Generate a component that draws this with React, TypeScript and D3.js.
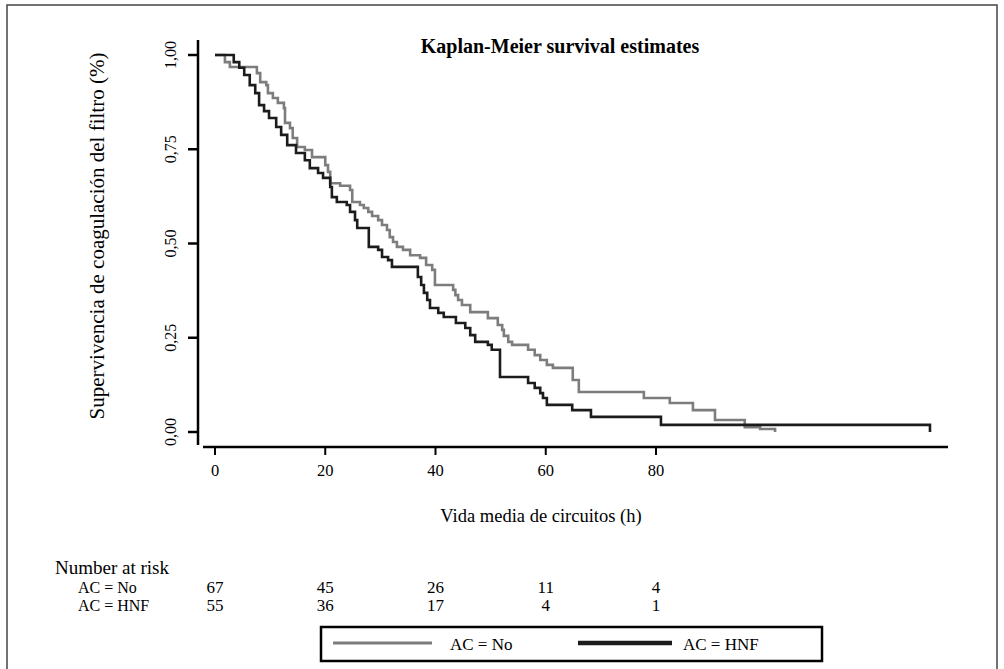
import React from 'react';
import * as d3 from 'd3';

// Kaplan-Meier steps: time (h) where the curve drops, and survival after the drop
const noTimes = [0, 1.8, 2.7, 7.6, 8.2, 9.3, 9.6, 10.5, 11.4, 12.5, 12.7, 13.6, 14.1, 14.9, 16.3, 17.6, 20.0, 20.5, 20.9, 22.7, 24.5, 24.9, 26.3, 27.0, 27.8, 28.5, 29.6, 30.3, 31.2, 31.7, 32.3, 33.0, 34.1, 35.4, 37.2, 38.3, 39.4, 39.9, 43.2, 43.6, 44.1, 44.8, 46.3, 49.5, 51.3, 52.1, 52.4, 53.2, 53.9, 56.8, 58.0, 59.0, 60.2, 61.3, 64.9, 66.0, 77.8, 82.5, 86.7, 90.7, 96.1, 98.9, 101.6];
const noSurv = [1, 0.981, 0.968, 0.952, 0.928, 0.92, 0.899, 0.886, 0.873, 0.859, 0.82, 0.806, 0.78, 0.756, 0.748, 0.729, 0.708, 0.69, 0.66, 0.653, 0.642, 0.61, 0.602, 0.594, 0.584, 0.573, 0.562, 0.549, 0.536, 0.517, 0.504, 0.491, 0.483, 0.469, 0.462, 0.443, 0.43, 0.39, 0.377, 0.363, 0.35, 0.337, 0.318, 0.302, 0.284, 0.271, 0.255, 0.239, 0.231, 0.218, 0.204, 0.191, 0.178, 0.17, 0.138, 0.106, 0.09, 0.077, 0.058, 0.032, 0.013, 0.008, 0];

const hnfTimes = [0, 3.4, 4.4, 5.3, 6.3, 7.3, 8.0, 8.9, 9.8, 11.1, 12.0, 13.1, 14.7, 16.3, 17.2, 18.7, 19.6, 20.9, 21.2, 22.1, 23.9, 24.5, 25.4, 25.8, 27.9, 29.6, 30.3, 31.4, 32.1, 36.8, 37.4, 37.9, 38.5, 39.0, 40.5, 41.5, 43.7, 45.4, 46.3, 47.2, 49.5, 50.2, 51.7, 56.8, 58.0, 59.0, 59.5, 60.2, 64.8, 68.2, 80.9, 129.7];
const hnfSurv = [1, 0.981, 0.966, 0.947, 0.92, 0.899, 0.867, 0.851, 0.833, 0.809, 0.788, 0.761, 0.74, 0.721, 0.7, 0.687, 0.674, 0.65, 0.623, 0.61, 0.602, 0.584, 0.562, 0.541, 0.491, 0.483, 0.464, 0.456, 0.438, 0.411, 0.39, 0.369, 0.35, 0.329, 0.316, 0.305, 0.289, 0.276, 0.257, 0.239, 0.231, 0.218, 0.146, 0.13, 0.117, 0.103, 0.09, 0.072, 0.058, 0.04, 0.019, 0];

const xTicks = [0, 20, 40, 60, 80];
const yTicks = [0, 0.25, 0.5, 0.75, 1];
const yTickLabels = ['0,00', '0,25', '0,50', '0,75', '1,00'];

const riskGroups = ['AC = No', 'AC = HNF'];
const riskNo = [67, 45, 26, 11, 4];
const riskHnf = [55, 36, 17, 4, 1];

const GRAY = '#7d7d7d';
const DARK = '#1c1c1c';
const FONT = '"Liberation Serif", "DejaVu Serif", serif';

const App = () => {
  const width = 1004;
  const height = 669;

  const xScale = d3.scaleLinear().domain([0, 80]).range([215, 656]);
  const yScale = d3.scaleLinear().domain([0, 1]).range([432, 55]);

  const line = d3.line<[number, number]>()
    .x(d => xScale(d[0]))
    .y(d => yScale(d[1]))
    .curve(d3.curveStepAfter);

  const noPts: [number, number][] = noTimes.map((t, i) => [t, noSurv[i]]);
  const hnfPts: [number, number][] = hnfTimes.map((t, i) => [t, hnfSurv[i]]);

  const axisY = 447;
  const axisX = 198;

  return (
    <svg width={width} height={height} style={{ position: 'absolute', left: 0, top: 0, background: '#fff' }} fontFamily={FONT}>
      <rect x={7} y={5} width={990} height={680} fill="none" stroke="#444" strokeWidth={1.5} />

      <text x={560} y={53} textAnchor="middle" fontSize={20} fontWeight="bold">Kaplan-Meier survival estimates</text>

      {/* y axis */}
      <line x1={axisX} x2={axisX} y1={40} y2={445} stroke="#000" strokeWidth={2.5} />
      {yTicks.map((t, i) => (
        <g key={t}>
          <line x1={188} x2={axisX} y1={yScale(t)} y2={yScale(t)} stroke="#000" strokeWidth={2.5} />
          <text transform={`translate(176, ${yScale(t)}) rotate(-90)`} textAnchor="middle" fontSize={16}>{yTickLabels[i]}</text>
        </g>
      ))}
      <text transform={`translate(104, 236) rotate(-90)`} textAnchor="middle" fontSize={21}>Supervivencia de coagulación del filtro (%)</text>

      {/* x axis */}
      <line x1={203} x2={948} y1={axisY} y2={axisY} stroke="#000" strokeWidth={2.5} />
      {xTicks.map(t => (
        <g key={t}>
          <line x1={xScale(t)} x2={xScale(t)} y1={axisY} y2={axisY + 8} stroke="#000" strokeWidth={2} />
          <text x={xScale(t)} y={476} textAnchor="middle" fontSize={16.5}>{t}</text>
        </g>
      ))}
      <text x={541} y={522} textAnchor="middle" fontSize={18.5}>Vida media de circuitos (h)</text>

      {/* curves */}
      <path d={line(noPts) || ''} fill="none" stroke={GRAY} strokeWidth={2.6} />
      <path d={line(hnfPts) || ''} fill="none" stroke={DARK} strokeWidth={2.6} />

      {/* number at risk */}
      <text x={55} y={574} fontSize={19}>Number at risk</text>
      <text x={78} y={593} fontSize={16}>{riskGroups[0]}</text>
      <text x={78} y={611} fontSize={16}>{riskGroups[1]}</text>
      {riskNo.map((n, i) => (
        <text key={'n' + i} x={xScale(xTicks[i])} y={593} textAnchor="middle" fontSize={17}>{n}</text>
      ))}
      {riskHnf.map((n, i) => (
        <text key={'h' + i} x={xScale(xTicks[i])} y={611} textAnchor="middle" fontSize={17}>{n}</text>
      ))}

      {/* legend */}
      <rect x={321} y={627} width={501} height={34} fill="none" stroke="#000" strokeWidth={2.5} />
      <line x1={333} x2={432} y1={643} y2={643} stroke={GRAY} strokeWidth={3} />
      <text x={450} y={650} fontSize={17}>{riskGroups[0]}</text>
      <line x1={578} x2={672} y1={643} y2={643} stroke={DARK} strokeWidth={4.5} />
      <text x={683} y={650} fontSize={17}>{riskGroups[1]}</text>
    </svg>
  );
};

export default App;
